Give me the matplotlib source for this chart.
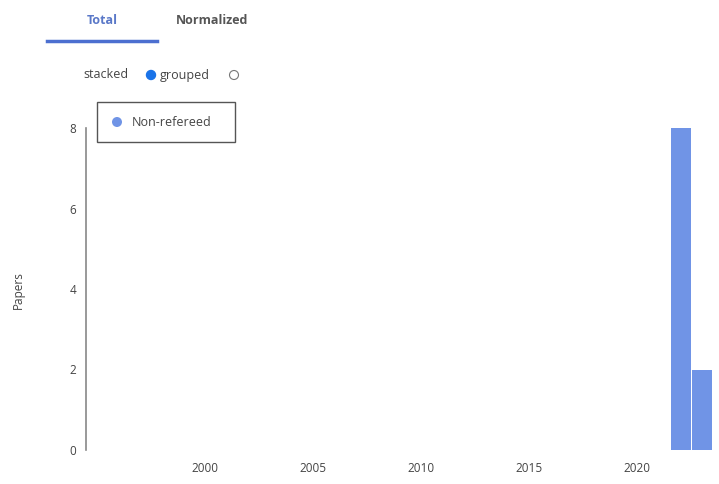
import numpy as np
import matplotlib.pyplot as plt
from matplotlib.patches import Rectangle, Circle
from matplotlib.lines import Line2D

years = [2022, 2023]
papers = [8, 2]
xticks = [2000, 2005, 2010, 2015, 2020]
yticks = [0, 2, 4, 6, 8]

W, H = 719, 484
fig = plt.figure(figsize=(W / 100, H / 100), dpi=100)
plt.rcParams['font.family'] = ['Open Sans', 'DejaVu Sans']

# axes from pixel box
left, right, top, bottom = 86, 713, 128, 450
ax = fig.add_axes([left / W, 1 - bottom / H, (right - left) / W, (bottom - top) / H])
ax.bar(years, papers, width=0.92, color='#7094e6')
ax.set_xlim(1994.5, 2023.5)
ax.set_ylim(0, 8)
ax.set_xticks(xticks)
ax.set_yticks(yticks)
for s in ['top', 'right', 'bottom']:
    ax.spines[s].set_visible(False)
ax.spines['left'].set_color('#888888')
ax.spines['left'].set_linewidth(1.2)
ax.tick_params(axis='both', length=0, labelsize=8.5, colors='#444444')
ax.tick_params(axis='x', pad=9)
ax.tick_params(axis='y', pad=7)

# overlay in pixel coords
ov = fig.add_axes([0, 0, 1, 1])
ov.set_xlim(0, W)
ov.set_ylim(H, 0)
ov.axis('off')
ov.patch.set_alpha(0)

ov.text(18, 290, 'Papers', fontsize=8.5, color='#444444', rotation=90, ha='center', va='center')

ov.text(102, 20, 'Total', fontsize=9, color='#5a78c8', ha='center', va='center', fontweight='bold')
ov.text(212, 20, 'Normalized', fontsize=9, color='#555555', ha='center', va='center', fontweight='bold')
ov.add_line(Line2D([47, 157], [41, 41], color='#4c6fd0', lw=2.5))

ov.text(83, 75, 'stacked', fontsize=9, color='#444444', ha='left', va='center')
ov.add_patch(Circle((151, 75), 4.5, facecolor='#1a73e8', edgecolor='#1a73e8', lw=1))
ov.text(160, 75, 'grouped', fontsize=9, color='#444444', ha='left', va='center')
ov.add_patch(Circle((234, 75), 4.5, facecolor='white', edgecolor='#777777', lw=0.8))

ov.add_patch(Rectangle((97, 102), 138, 40, facecolor='white', edgecolor='#555555', lw=1))
ov.add_patch(Circle((117, 122), 5, facecolor='#7094e6', edgecolor='none'))
ov.text(132, 122, 'Non-refereed', fontsize=9, color='#444444', ha='left', va='center')

fig.savefig('out.png', dpi=100)
